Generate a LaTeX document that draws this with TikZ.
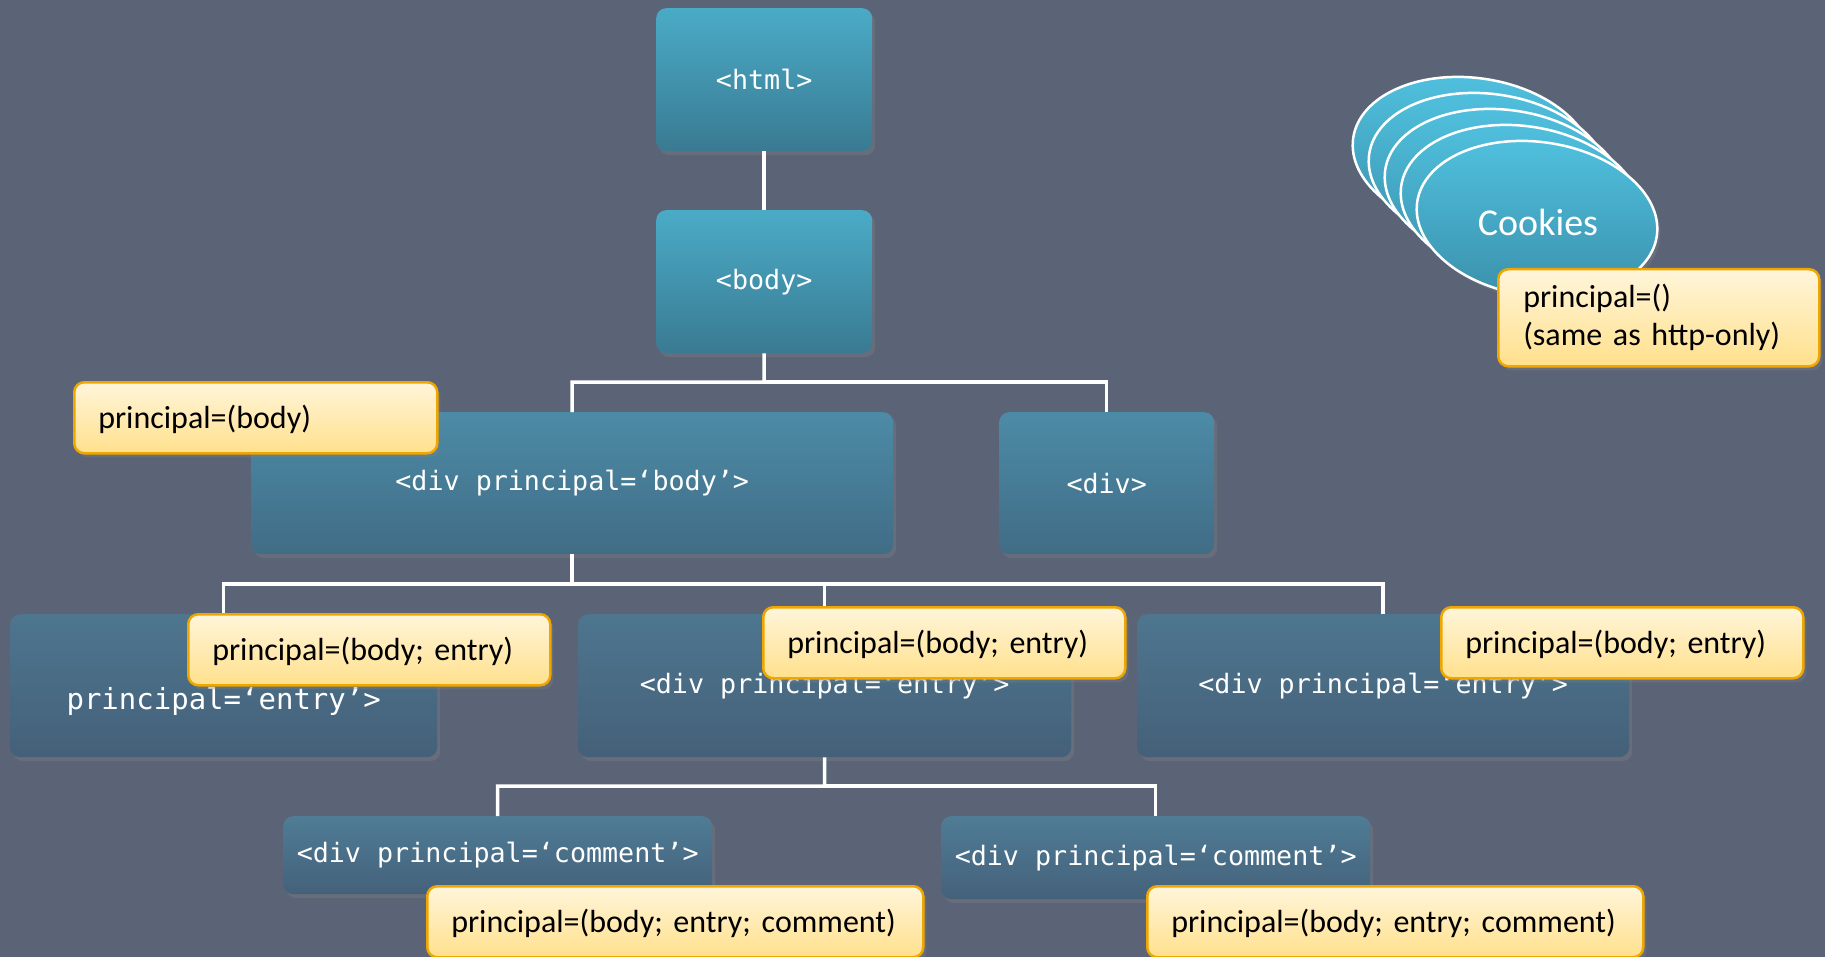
\documentclass[tikz,border=0pt]{standalone}
\usepackage{fontspec}
\setmainfont{Carlito}
\setmonofont{DejaVu Sans Mono}
\usetikzlibrary{shadows,calc}

\definecolor{bgslate}{RGB}{91,99,119}
\definecolor{topA}{RGB}{74,171,199}
\definecolor{botA}{RGB}{58,122,146}
\definecolor{topB}{RGB}{76,139,166}
\definecolor{botB}{RGB}{65,108,134}
\definecolor{topC}{RGB}{78,118,143}
\definecolor{botC}{RGB}{69,96,121}
\definecolor{topD}{RGB}{79,124,150}
\definecolor{botD}{RGB}{69,97,122}
\definecolor{lblTop}{RGB}{255,245,218}
\definecolor{lblBot}{RGB}{255,224,140}
\definecolor{lblEdge}{RGB}{239,166,0}
\definecolor{ckTop}{RGB}{80,194,224}
\definecolor{ckBot}{RGB}{58,142,169}

\tikzset{
  elem/.style={rounded corners=10pt, anchor=north west, align=center,
    text=white, font=\ttfamily\fontsize{26.7}{32}\selectfont,
    drop shadow={shadow xshift=3pt, shadow yshift=-4pt, opacity=0.35}},
  lvlA/.style={elem, top color=topA, bottom color=botA},
  lvlB/.style={elem, top color=topB, bottom color=botB},
  lvlC/.style={elem, top color=topC, bottom color=botC},
  lvlD/.style={elem, top color=topD, bottom color=botD},
  tag/.style={rounded corners=10pt, anchor=north west, draw=lblEdge,
    line width=2.5pt, top color=lblTop, bottom color=lblBot,
    align=left, inner xsep=24pt, inner ysep=0pt, text=black,
    font=\fontsize{32}{38}\selectfont,
    drop shadow={shadow xshift=3pt, shadow yshift=-4pt, opacity=0.35}},
  onetag/.style={tag, text depth=2pt, minimum height=71pt},
  cookie/.style={draw=white, line width=2.5pt,
    top color=ckTop, bottom color=ckBot,
    drop shadow={shadow xshift=3pt, shadow yshift=-4pt, opacity=0.35}},
  link/.style={draw=white, line width=3.5pt}
}

\begin{document}
\begin{tikzpicture}[x=1pt, y=-1pt]
\fill[bgslate] (0,0) rectangle (1825,957);
\useasboundingbox (0,0) rectangle (1825,957);

% junction points of the tree connectors
\coordinate (j1) at (764,382);
\coordinate (j2) at (572,584);
\coordinate (j3) at (824.5,786);

% element boxes
\node[lvlA, minimum width=216pt, minimum height=143pt] (html) at (656,8) {<html>};
\node[lvlA, minimum width=216pt, minimum height=143pt] (body) at (656,210) {<body>};
\node[lvlB, minimum width=642pt, minimum height=142pt] (dv) at (251,412) {<div principal=‘body’>};
\node[lvlB, minimum width=215pt, minimum height=142pt] (dv2) at (999,412) {<div>};
\node[lvlC, minimum width=427pt, minimum height=143pt,
      font=\ttfamily\fontsize{29}{32}\selectfont] (e1) at (10,614) {\strut\\principal=‘entry’>};
\node[lvlC, minimum width=493pt, minimum height=143pt] (e2) at (578,614) {<div principal=‘entry’>};
\node[lvlC, minimum width=492pt, minimum height=143pt] (e3) at (1137,614) {<div principal=‘entry’>};
\node[lvlD, minimum width=429pt, minimum height=78pt] (c1) at (283,816) {<div principal=‘comment’>};
\node[lvlD, minimum width=429pt, minimum height=83pt] (c2) at (941,816) {<div principal=‘comment’>};

% connectors
\draw[link] (html.south) -- (body.north);
\draw[link] (body.south) -- (j1) -| (dv.north);
\draw[link] (j1) -| (dv2.north);
\draw[link] (dv.south) |- (j2) -| (e1.north);
\draw[link] (j2) -| (e2.north);
\draw[link] (j2) -| (e3.north);
\draw[link] (e2.south) -- (j3) -| (c1.north);
\draw[link] (j3) -| (c2.north);

% cookie stack, back to front
\foreach \cx/\cy in {1473/155, 1489/171, 1505/187, 1521/203, 1537/219}{
  \begin{scope}[shift={(\cx,\cy)}, rotate=-8]
    \path[cookie] (0,0) ellipse [x radius=121, y radius=77];
  \end{scope}
}
\node[text=white, font=\fontsize{38}{44}\selectfont] (ck) at (1538,222) {Cookies};

% principal labels
\node[onetag, text width=315pt] (tb) at (73,381) {principal=(body)};
\node[onetag, text width=314pt] (t1) at (187,613) {principal=(body; entry)};
\node[onetag, text width=314pt] (t2) at (762,606) {principal=(body; entry)};
\node[onetag, text width=314pt] (t3) at (1440,606) {principal=(body; entry)};
\node[onetag, text width=448pt] (tc1) at (426,885) {principal=(body; entry; comment)};
\node[onetag, text width=448pt] (tc2) at (1146,885) {principal=(body; entry; comment)};
\node[tag, text width=271pt, inner xsep=25pt, minimum height=97pt] (tk) at (1497,268) {principal=()\\(same as http-only)};
\end{tikzpicture}
\end{document}
